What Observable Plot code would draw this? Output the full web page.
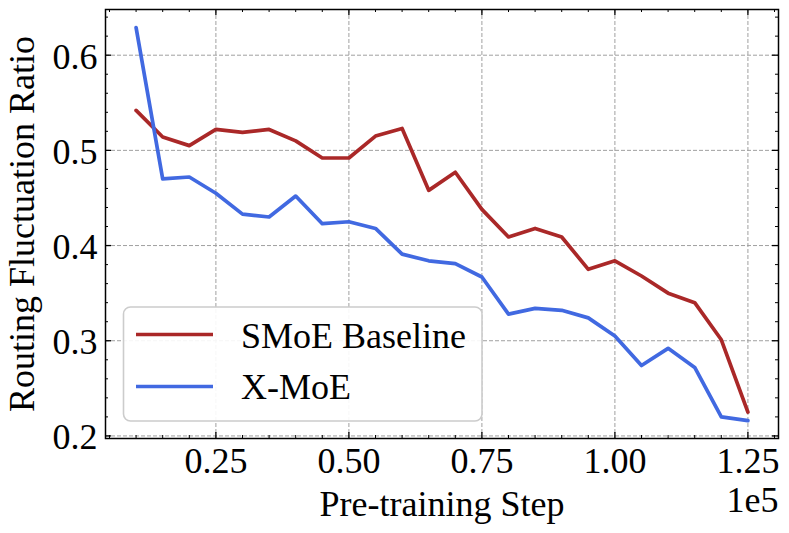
<!DOCTYPE html>
<html>
<head>
<meta charset="utf-8">
<script src="https://cdn.jsdelivr.net/npm/d3@7"></script>
<script src="https://cdn.jsdelivr.net/npm/@observablehq/plot@0.6"></script>
<style>
  html, body { margin: 0; padding: 0; background: #fff; }
  #chart { width: 789px; height: 533px; }
</style>
</head>
<body>
<div id="chart"></div>
<script>
// ---- Data (x in units of 1e5 steps) ----
const steps = [0.10, 0.15, 0.20, 0.25, 0.30, 0.35, 0.40, 0.45, 0.50, 0.55, 0.60, 0.65,
               0.70, 0.75, 0.80, 0.85, 0.90, 0.95, 1.00, 1.05, 1.10, 1.15, 1.20, 1.25];
const smoeBaseline = [0.542, 0.514, 0.505, 0.522, 0.519, 0.522, 0.510, 0.492, 0.492, 0.515, 0.523, 0.458,
                      0.477, 0.438, 0.409, 0.418, 0.409, 0.375, 0.384, 0.368, 0.350, 0.340, 0.301, 0.225];
const xMoE = [0.629, 0.470, 0.472, 0.455, 0.433, 0.430, 0.452, 0.423, 0.425, 0.418, 0.391, 0.384,
              0.381, 0.367, 0.328, 0.334, 0.332, 0.324, 0.305, 0.274, 0.292, 0.272, 0.220, 0.216];

const seriesNames = ["SMoE Baseline", "X-MoE"];
const seriesColors = ["#aa2828", "#4169e1"];

// ---- Ticks ----
const xMajorTicks = [0.25, 0.50, 0.75, 1.00, 1.25];
const xMinorTicks = [0.05, 0.10, 0.15, 0.20, 0.30, 0.35, 0.40, 0.45, 0.55, 0.60, 0.65, 0.70,
                     0.80, 0.85, 0.90, 0.95, 1.05, 1.10, 1.15, 1.20, 1.30];
const yMajorTicks = [0.2, 0.3, 0.4, 0.5, 0.6];
const yMinorTicks = [0.22, 0.24, 0.26, 0.28, 0.32, 0.34, 0.36, 0.38, 0.42, 0.44, 0.46, 0.48,
                     0.52, 0.54, 0.56, 0.58, 0.62, 0.64];

const xLabel = "Pre-training Step";
const yLabel = "Routing Fluctuation Ratio";
const xOffsetText = "1e5";

// ---- Layout ----
const W = 789, H = 533;
const mL = 105, mR = 11, mT = 9, mB = 95;
const innerW = W - mL - mR, innerH = H - mT - mB;
const majorLen = 6, minorLen = 3;
const FONT = "'Liberation Serif', 'Times New Roman', serif";

const rows = steps.map((s, i) => ({step: s, smoe: smoeBaseline[i], xmoe: xMoE[i]}));

const gridStyle = {stroke: "#a0a0a0", strokeOpacity: 1, strokeWidth: 1, strokeDasharray: "4,2"};
const tickStyle = {stroke: "#000", strokeWidth: 1.3};
const minorStyle = {stroke: "#000", strokeWidth: 1};
const LW = 3.7;

const chart = Plot.plot({
  width: W,
  height: H,
  marginLeft: mL,
  marginRight: mR,
  marginTop: mT,
  marginBottom: mB,
  style: {fontFamily: FONT, fontSize: "36px", background: "#fff", color: "#000"},
  x: {domain: [0.0425, 1.3075]},
  y: {domain: [0.1973, 0.648]},
  marks: [
    Plot.gridX(xMajorTicks, gridStyle),
    Plot.gridY(yMajorTicks, gridStyle),
    Plot.lineY(rows, {x: "step", y: "smoe", stroke: seriesColors[0], strokeWidth: LW}),
    Plot.lineY(rows, {x: "step", y: "xmoe", stroke: seriesColors[1], strokeWidth: LW}),
    // inward ticks on all four sides
    Plot.ruleX(xMajorTicks, {x: d => d, insetTop: innerH - majorLen, ...tickStyle}),
    Plot.ruleX(xMajorTicks, {x: d => d, insetBottom: innerH - majorLen, ...tickStyle}),
    Plot.ruleX(xMinorTicks, {x: d => d, insetTop: innerH - minorLen, ...minorStyle}),
    Plot.ruleX(xMinorTicks, {x: d => d, insetBottom: innerH - minorLen, ...minorStyle}),
    Plot.ruleY(yMajorTicks, {y: d => d, insetRight: innerW - majorLen, ...tickStyle}),
    Plot.ruleY(yMajorTicks, {y: d => d, insetLeft: innerW - majorLen, ...tickStyle}),
    Plot.ruleY(yMinorTicks, {y: d => d, insetRight: innerW - minorLen, ...minorStyle}),
    Plot.ruleY(yMinorTicks, {y: d => d, insetLeft: innerW - minorLen, ...minorStyle}),
    Plot.frame({stroke: "#000", strokeWidth: 1.5}),
    // tick labels
    Plot.axisX({ticks: xMajorTicks, tickSize: 0, tickPadding: 9, tickFormat: d3.format(".2f"), label: null, fontSize: 36}),
    Plot.axisY({ticks: yMajorTicks, tickSize: 0, tickPadding: 8, tickFormat: d3.format(".1f"), label: null, fontSize: 36, dy: 2}),
    // axis labels
    Plot.text([xLabel], {frameAnchor: "bottom", text: d => d, textAnchor: "middle", lineAnchor: "bottom", dy: 77, fontSize: 36}),
    Plot.text([xOffsetText], {frameAnchor: "bottom-right", text: d => d, textAnchor: "end", lineAnchor: "bottom", dy: 73, fontSize: 36}),
    Plot.text([yLabel], {frameAnchor: "left", text: d => d, rotate: -90, textAnchor: "middle", lineAnchor: "bottom", dx: 33 - mL, fontSize: 36})
  ]
});

// ---- Legend (inside plot, lower left) ----
const svg = d3.select(chart);
const lg = svg.append("g").attr("font-family", FONT).attr("font-size", 36).attr("text-anchor", "start");
lg.append("rect")
  .attr("x", 123.5).attr("y", 307).attr("width", 358.5).attr("height", 114)
  .attr("rx", 7).attr("ry", 7)
  .attr("fill", "#fff").attr("fill-opacity", 0.9)
  .attr("stroke", "#cccccc").attr("stroke-width", 1.6);
const legendRows = [{y: 334.5, ty: 348}, {y: 386.5, ty: 399}];
seriesNames.forEach((name, i) => {
  lg.append("line")
    .attr("x1", 136).attr("x2", 213).attr("y1", legendRows[i].y).attr("y2", legendRows[i].y)
    .attr("stroke", seriesColors[i]).attr("stroke-width", LW);
  lg.append("text")
    .attr("x", 241).attr("y", legendRows[i].ty).attr("fill", "#000")
    .attr("text-anchor", "start")
    .text(name);
});

document.getElementById("chart").appendChild(chart);
</script>
</body>
</html>
